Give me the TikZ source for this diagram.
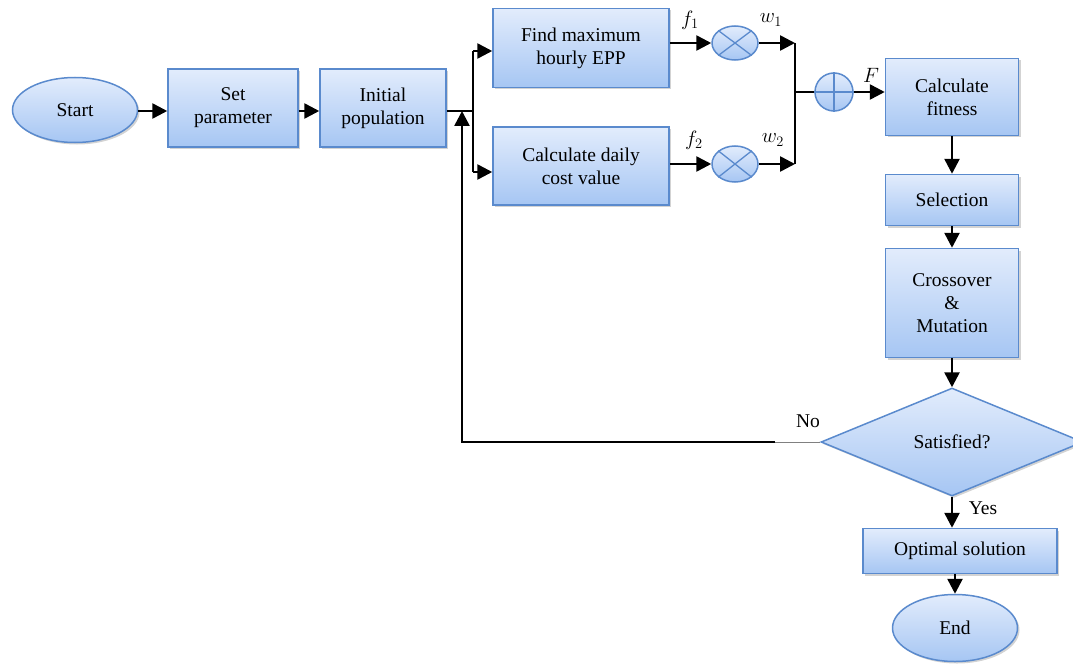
\documentclass[tikz,border=0pt]{standalone}
\usepackage{fontspec}
\setmainfont{Liberation Serif}
\usetikzlibrary{shapes.geometric,arrows.meta,shadows}
\definecolor{boxtop}{HTML}{E2ECFC}
\definecolor{boxbot}{HTML}{A6C6F3}
\definecolor{boxline}{HTML}{5A8ACD}
\begin{document}
\begin{tikzpicture}[x=1pt,y=-1pt,
  base/.style={draw=boxline,line width=1.5pt,top color=boxtop,bottom color=boxbot,
    drop shadow={opacity=0.35,shadow xshift=2pt,shadow yshift=-2pt},
    font=\fontsize{19.5}{23}\selectfont,align=center,inner sep=0pt},
  procbox/.style={base,rectangle},
  term/.style={base,ellipse},
  cond/.style={base,diamond},
  op/.style={draw=boxline,line width=1.5pt,top color=boxtop,bottom color=boxbot,ellipse,inner sep=0pt},
  conn/.style={line width=2.6pt,-{Triangle[length=15pt,width=15pt]}},
  plain/.style={line width=2.6pt},
  lbl/.style={font=\fontsize{19.5}{23}\selectfont,inner sep=0pt},
  mlbl/.style={font=\fontsize{21}{24}\selectfont,inner sep=0pt}]
\useasboundingbox (0,0) rectangle (1073,666);

\node[term,minimum width=125pt,minimum height=65pt] (start) at (75,110) {Start};
\node[procbox,minimum width=130pt,minimum height=78pt] (set) at (233,108) {Set\\parameter};
\node[procbox,minimum width=126pt,minimum height=78pt] (ini) at (383,108) {Initial\\population};
\node[procbox,minimum width=176pt,minimum height=79pt] (find) at (581,48) {Find maximum\\hourly EPP};
\node[procbox,minimum width=176pt,minimum height=78pt] (daily) at (581,166) {Calculate daily\\cost value};
\node[op,minimum width=46pt,minimum height=34pt] (m1) at (735,43) {};
\node[op,minimum width=46pt,minimum height=36pt] (m2) at (735,164) {};
\node[op,minimum width=38pt,minimum height=38pt] (plus) at (834,92) {};
\node[procbox,minimum width=133pt,minimum height=77pt] (fit) at (952,97) {Calculate\\fitness};
\node[procbox,minimum width=133pt,minimum height=51pt] (sel) at (952,200) {Selection};
\node[procbox,minimum width=133pt,minimum height=109pt] (cross) at (952,303) {Crossover\\\&\\Mutation};
\node[cond,minimum width=262pt,minimum height=108pt,aspect=2.4] (sat) at (952,442) {Satisfied?};
\node[procbox,minimum width=194pt,minimum height=45pt] (opt) at (960,551) {Optimal solution};
\node[term,minimum width=125pt,minimum height=67pt] (end) at (955,628) {End};

% symbols inside operator circles
\draw[boxline,line width=1.3pt] (m1.north west) -- (m1.south east) (m1.north east) -- (m1.south west);
\draw[boxline,line width=1.3pt] (m2.north west) -- (m2.south east) (m2.north east) -- (m2.south west);
\draw[boxline,line width=1.3pt] (plus.north) -- (plus.south) (plus.west) -- (plus.east);

% connectors
\coordinate (split) at (473,111);
\coordinate (jtop) at (795,43);
\coordinate (jbot) at (795,164);
\coordinate (jmid) at (795,92);
\coordinate (fbk) at (462,442);
\coordinate (gray) at (775,442);

\draw[conn] (start.east |- 0,111) -- (set.west |- 0,111);
\draw[conn] (set.east |- 0,111) -- (ini.west |- 0,111);
\draw[plain] (ini.east |- split) -- (split);
\draw[plain] (split |- 0,51) -- (split |- 0,172);
\draw[conn] (split |- 0,51) -- (find.west |- 0,51);
\draw[conn] (split |- 0,172) -- (daily.west |- 0,172);
\draw[conn] (find.east |- m1) -- (m1.west);
\draw[conn] (daily.east |- m2) -- (m2.west);
\draw[conn] (m1.east) -- (jtop);
\draw[conn] (m2.east) -- (jbot);
\draw[plain] (jtop) -- (jbot);
\draw[plain] (jmid) -- (plus.west);
\draw[conn] (plus.east) -- (fit.west |- plus);
\draw[conn] (fit) -- (sel);
\draw[conn] (sel) -- (cross);
\draw[conn] (cross) -- (sat);
\draw[conn] (sat) -- (opt.north -| sat);
\draw[conn] (opt.south -| end) -- (end);
\draw[gray,line width=0.8pt] (sat.west) -- (gray);
\draw[conn] (gray) -- (fbk) -- (fbk |- split);

% labels
\node[mlbl] at (690,20) {$f_1$};
\node[mlbl] at (771,20) {$w_1$};
\node[mlbl] at (694,140) {$f_2$};
\node[mlbl] at (773,140) {$w_2$};
\node[mlbl] at (871,75) {$F$};
\node[lbl] at (808,421) {No};
\node[lbl] at (983,508) {Yes};
\end{tikzpicture}
\end{document}
